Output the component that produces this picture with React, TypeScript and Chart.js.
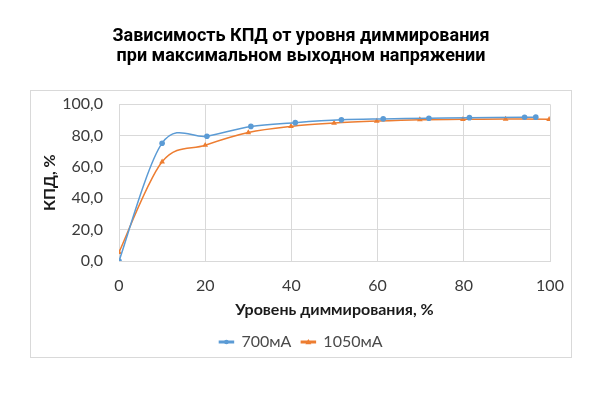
import React, { useEffect, useRef } from "react";
import { Chart, registerables } from "chart.js";

Chart.register(...registerables);

const titleLines = ["Зависимость КПД от уровня диммирования", "при максимальном выходном напряжении"];
const xTitle = "Уровень диммирования, %";
const yTitle = "КПД, %";
const xTicks = [0, 20, 40, 60, 80, 100];
const yTicks = [0, 20, 40, 60, 80, 100];

const series1Name = "700мА";
const series1X = [0, 10, 20.4, 30.6, 40.9, 51.6, 61.3, 71.9, 81.3, 94.1, 96.7];
const series1Y = [0, 75.2, 79.6, 85.9, 88.3, 90.1, 90.7, 91.1, 91.5, 91.7, 91.8];

const series2Name = "1050мА";
const series2X = [0, 10, 20, 30, 39.9, 49.9, 59.8, 69.8, 79.8, 89.7, 99.8];
const series2Y = [5.6, 63.3, 73.9, 82.0, 85.9, 88.0, 89.3, 90.2, 90.4, 90.6, 90.4];

const BLUE = "#5b9bd5";
const ORANGE = "#ed7d31";
const GRID = "#d9d9d9";
const TEXT = "#3a3a3a";
const FONT = "Lato, 'DejaVu Sans', sans-serif";

const framePlugin = {
  id: "frame",
  beforeDraw(chart: any) {
    const ctx = chart.ctx;
    ctx.save();
    ctx.fillStyle = "#ffffff";
    ctx.fillRect(0, 0, chart.width, chart.height);
    ctx.strokeStyle = "#d9d9d9";
    ctx.lineWidth = 1;
    ctx.strokeRect(30.5, 90.5, 541, 267);
    ctx.restore();
  },
};

// Excel-style smoothing: uniform Catmull-Rom control points on the library's own point positions
const excelSmoothPlugin = {
  id: "excelSmooth",
  beforeDatasetsDraw(chart: any) {
    chart.data.datasets.forEach((_: any, di: number) => {
      const meta = chart.getDatasetMeta(di);
      const pts = meta.data;
      const n = pts.length;
      for (let i = 0; i < n; i++) {
        const p = pts[i];
        const prev = pts[Math.max(0, i - 1)];
        const next = pts[Math.min(n - 1, i + 1)];
        const dx = (next.x - prev.x) / 6;
        const dy = (next.y - prev.y) / 6;
        p.cp1x = p.x - dx;
        p.cp1y = p.y - dy;
        p.cp2x = p.x + dx;
        p.cp2y = p.y + dy;
      }
      if (meta.dataset) meta.dataset._pointsUpdated = true;
    });
  },
};

const legendMarkerPlugin = {
  id: "legendMarkers",
  afterDraw(chart: any) {
    const legend = chart.legend;
    if (!legend || !legend.legendHitBoxes) return;
    const ctx = chart.ctx;
    const boxW = legend.options.labels.boxWidth;
    legend.legendHitBoxes.forEach((hb: any, i: number) => {
      const ds = chart.data.datasets[i];
      const cx = hb.left + boxW / 2;
      const cy = hb.top + hb.height / 2;
      ctx.save();
      ctx.fillStyle = ds.borderColor;
      ctx.beginPath();
      if (ds.pointStyle === "triangle") {
        ctx.moveTo(cx, cy - 3);
        ctx.lineTo(cx + 3, cy + 2.2);
        ctx.lineTo(cx - 3, cy + 2.2);
        ctx.closePath();
      } else {
        ctx.arc(cx, cy, 2.3, 0, Math.PI * 2);
      }
      ctx.fill();
      ctx.restore();
    });
  },
};

export default function App() {
  const ref = useRef<HTMLCanvasElement>(null);
  useEffect(() => {
    if (!ref.current) return;
    const chart = new Chart(ref.current, {
      type: "line",
      data: {
        datasets: [
          {
            label: series1Name,
            data: series1X.map((x, i) => ({ x, y: series1Y[i] })),
            borderColor: BLUE,
            backgroundColor: BLUE,
            borderWidth: 1.5,
            pointStyle: "circle",
            pointRadius: 2.8,
            pointBorderWidth: 0,
            tension: 0.4,
          },
          {
            label: series2Name,
            data: series2X.map((x, i) => ({ x, y: series2Y[i] })),
            borderColor: ORANGE,
            backgroundColor: ORANGE,
            borderWidth: 1.5,
            pointStyle: "triangle",
            pointRadius: 3.3,
            pointBorderWidth: 0,
            tension: 0.4,
          },
        ],
      },
      options: {
        animation: false,
        responsive: false,
        devicePixelRatio: 1,
        layout: { padding: { left: 30, right: 28, top: 0, bottom: 40 } },
        plugins: {
          title: {
            display: true,
            text: titleLines,
            color: "#000000",
            font: { family: "Roboto, 'DejaVu Sans', sans-serif", size: 18, weight: "bold", lineHeight: 1.12 },
            padding: { top: 26, bottom: 38 },
          },
          legend: {
            display: true,
            position: "bottom",
            labels: {
              color: "#4a4a4a",
              font: { family: FONT, size: 16 },
              boxWidth: 14,
              boxHeight: 1.5,
              padding: 10,
            },
          },
          tooltip: { enabled: false },
        },
        scales: {
          x: {
            type: "linear",
            min: 0,
            max: 100,
            afterBuildTicks: (s: any) => {
              s.ticks = xTicks.map((v) => ({ value: v }));
            },
            afterFit: (s: any) => {
              s.height = 63;
            },
            ticks: { color: TEXT, font: { family: FONT, size: 16 }, padding: 15, maxRotation: 0 },
            grid: { color: GRID, drawTicks: false },
            border: { color: GRID },
            title: {
              display: true,
              text: xTitle,
              color: "#1a1a1a",
              font: { family: FONT, size: 16, weight: "bold" },
              padding: { top: 5, bottom: 5 },
            },
          },
          y: {
            type: "linear",
            min: 0,
            max: 100,
            afterBuildTicks: (s: any) => {
              s.ticks = yTicks.map((v) => ({ value: v }));
            },
            afterFit: (s: any) => {
              s.width = 89;
            },
            ticks: {
              color: TEXT,
              font: { family: FONT, size: 16 },
              padding: 16,
              callback: (v: any) => Number(v).toFixed(1).replace(".", ","),
            },
            grid: { color: GRID, drawTicks: false },
            border: { color: GRID },
            title: {
              display: true,
              text: yTitle,
              color: "#1a1a1a",
              font: { family: FONT, size: 16, weight: "bold" },
              padding: { top: 10, bottom: 0 },
            },
          },
          y2: {
            type: "linear",
            position: "right",
            display: true,
            min: 0,
            max: 100,
            afterFit: (s: any) => {
              s.width = 22;
            },
            ticks: { display: false },
            grid: { display: false, drawTicks: false },
            border: { display: false },
          },
        },
      },
      plugins: [framePlugin, excelSmoothPlugin, legendMarkerPlugin],
    } as any);
    return () => chart.destroy();
  }, []);
  return (
    <div style={{ position: "absolute", left: 0, top: 0, width: 600, height: 400, background: "#fff" }}>
      <canvas ref={ref} width={600} height={400} style={{ display: "block" }} />
    </div>
  );
}
